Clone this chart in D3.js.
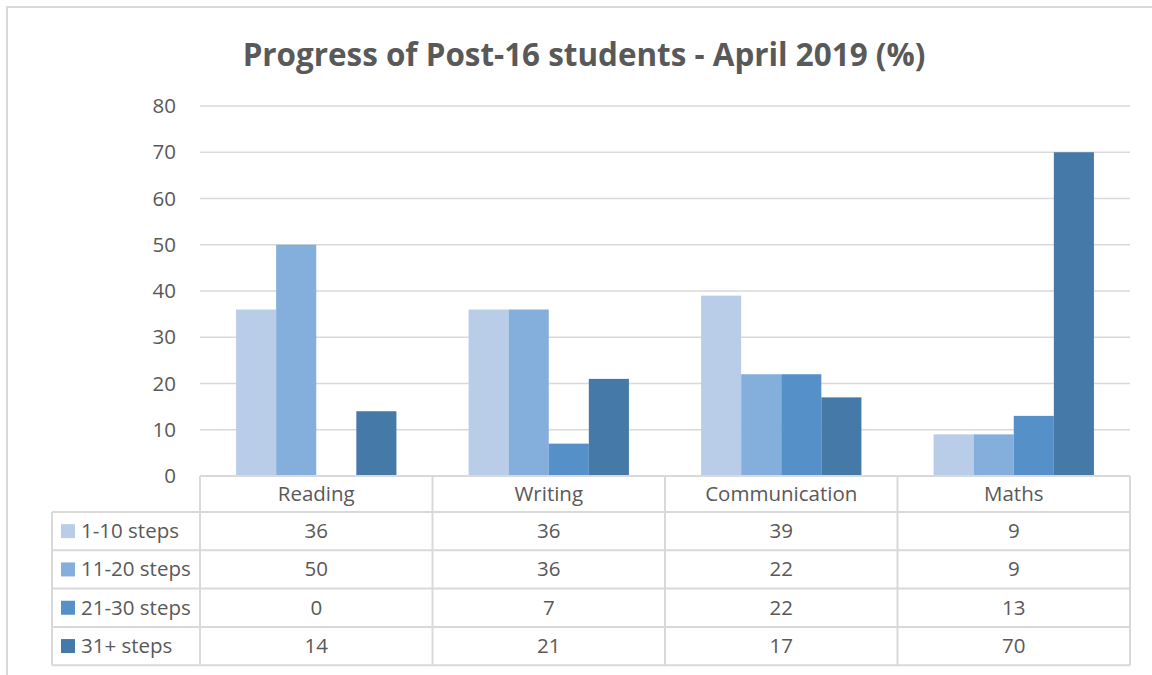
<!DOCTYPE html>
<html lang="en">
<head>
  <title>Progress of Post-16 students</title>
  <script type="text/javascript" src="https://cdnjs.cloudflare.com/ajax/libs/d3/7.8.5/d3.min.js"></script>
  <style>
    body { margin: 0px; background: #ffffff; }
    svg { display: block; font-family: "Open Sans", sans-serif; }
  </style>
</head>
<body>
  <script type="text/javascript">
    var width = 1152;
    var height = 675;

    // data
    var subjects = ["Reading", "Writing", "Communication", "Maths"];
    var seriesNames = ["1-10 steps", "11-20 steps", "21-30 steps", "31+ steps"];
    var steps1to10 = [36, 36, 39, 9];
    var steps11to20 = [50, 36, 22, 9];
    var steps21to30 = [0, 7, 22, 13];
    var steps31plus = [14, 21, 17, 70];
    var yTicks = [0, 10, 20, 30, 40, 50, 60, 70, 80];
    var colors = ["#b9cde8", "#84aedb", "#5591c8", "#4579a8"];

    var seriesValues = [steps1to10, steps11to20, steps21to30, steps31plus];
    var series = seriesNames.map(function (n, i) {
      return { name: n, values: seriesValues[i], color: colors[i] };
    });

    var plot = { left: 200, right: 1130, top: 106, bottom: 476 };
    var tableLeft = 52;
    var rowH = 38.3;
    var headerH = 36;
    var textColor = "#595959";
    var gridColor = "#d9d9d9";
    var labelSize = 20.5;

    var svg = d3.select("body").append("svg")
      .attr("width", width)
      .attr("height", height);

    // outer chart border
    svg.append("rect")
      .attr("x", 7).attr("y", 7)
      .attr("width", 1160).attr("height", 700)
      .attr("fill", "none")
      .attr("stroke", gridColor)
      .attr("stroke-width", 2);

    svg.append("text")
      .attr("x", 584).attr("y", 66)
      .attr("text-anchor", "middle")
      .attr("fill", textColor)
      .attr("font-size", 31.4)
      .attr("font-weight", "bold")
      .text("Progress of Post-16 students - April 2019 (%)");

    var y = d3.scaleLinear().domain([0, 80]).range([plot.bottom, plot.top]);
    var x0 = d3.scaleBand().domain(subjects).range([plot.left, plot.right]);
    var x1 = d3.scaleBand().domain(seriesNames)
      .range([0, x0.bandwidth()]).paddingOuter(0.9).paddingInner(0);

    // gridlines
    svg.append("g").selectAll("line").data(yTicks.slice(1)).enter().append("line")
      .attr("x1", plot.left).attr("x2", plot.right)
      .attr("y1", function (d) { return y(d); })
      .attr("y2", function (d) { return y(d); })
      .attr("stroke", gridColor).attr("stroke-width", 1.5);

    // y axis labels
    var yAxis = d3.axisLeft(y).tickValues(yTicks).tickSize(0).tickPadding(24);
    var yg = svg.append("g").attr("transform", "translate(" + plot.left + ",0)").call(yAxis);
    yg.select(".domain").remove();
    yg.selectAll("text").attr("fill", textColor).attr("font-size", labelSize)
      .attr("font-family", "'Open Sans', sans-serif");

    // bars
    var groups = svg.append("g").selectAll("g").data(series).enter().append("g")
      .attr("fill", function (d) { return d.color; });
    groups.selectAll("rect")
      .data(function (s) {
        return s.values.map(function (v, i) { return { name: s.name, subject: subjects[i], value: v }; });
      })
      .enter().append("rect")
      .attr("x", function (d) { return x0(d.subject) + x1(d.name); })
      .attr("width", x1.bandwidth())
      .attr("y", function (d) { return y(d.value); })
      .attr("height", function (d) { return y(0) - y(d.value); });

    // data table
    var table = svg.append("g");
    var tableBottom = plot.bottom + headerH + rowH * series.length;
    var lineStyle = function (sel) { return sel.attr("stroke", gridColor).attr("stroke-width", 2); };

    // horizontal lines
    table.append("line").attr("x1", plot.left).attr("x2", plot.right)
      .attr("y1", plot.bottom).attr("y2", plot.bottom).call(lineStyle);
    series.forEach(function (s, i) {
      var yy = plot.bottom + headerH + rowH * i;
      table.append("line").attr("x1", tableLeft).attr("x2", plot.right)
        .attr("y1", yy).attr("y2", yy).call(lineStyle);
    });
    table.append("line").attr("x1", tableLeft).attr("x2", plot.right)
      .attr("y1", tableBottom).attr("y2", tableBottom).call(lineStyle);

    // vertical lines
    table.append("line").attr("x1", tableLeft).attr("x2", tableLeft)
      .attr("y1", plot.bottom + headerH).attr("y2", tableBottom).call(lineStyle);
    subjects.forEach(function (s) {
      table.append("line").attr("x1", x0(s)).attr("x2", x0(s))
        .attr("y1", plot.bottom).attr("y2", tableBottom).call(lineStyle);
    });
    table.append("line").attr("x1", plot.right).attr("x2", plot.right)
      .attr("y1", plot.bottom).attr("y2", tableBottom).call(lineStyle);

    // header text
    table.selectAll("text.header").data(subjects).enter().append("text")
      .attr("class", "header")
      .attr("x", function (d) { return x0(d) + x0.bandwidth() / 2; })
      .attr("y", plot.bottom + headerH / 2 + 7)
      .attr("text-anchor", "middle")
      .attr("fill", textColor).attr("font-size", labelSize)
      .text(function (d) { return d; });

    // rows
    var rows = table.selectAll("g.row").data(series).enter().append("g")
      .attr("class", "row")
      .attr("transform", function (d, i) {
        return "translate(0," + (plot.bottom + headerH + rowH * i) + ")";
      });
    rows.append("rect")
      .attr("x", 61).attr("y", rowH / 2 - 7)
      .attr("width", 14).attr("height", 14)
      .attr("fill", function (d) { return d.color; });
    rows.append("text")
      .attr("x", 81).attr("y", rowH / 2 + 7)
      .attr("fill", textColor).attr("font-size", labelSize)
      .text(function (d) { return d.name; });
    rows.selectAll("text.val")
      .data(function (s) { return s.values.map(function (v, i) { return { subject: subjects[i], value: v }; }); })
      .enter().append("text")
      .attr("class", "val")
      .attr("x", function (d) { return x0(d.subject) + x0.bandwidth() / 2; })
      .attr("y", rowH / 2 + 7)
      .attr("text-anchor", "middle")
      .attr("fill", textColor).attr("font-size", labelSize)
      .text(function (d) { return d.value; });
  </script>
</body>
</html>
